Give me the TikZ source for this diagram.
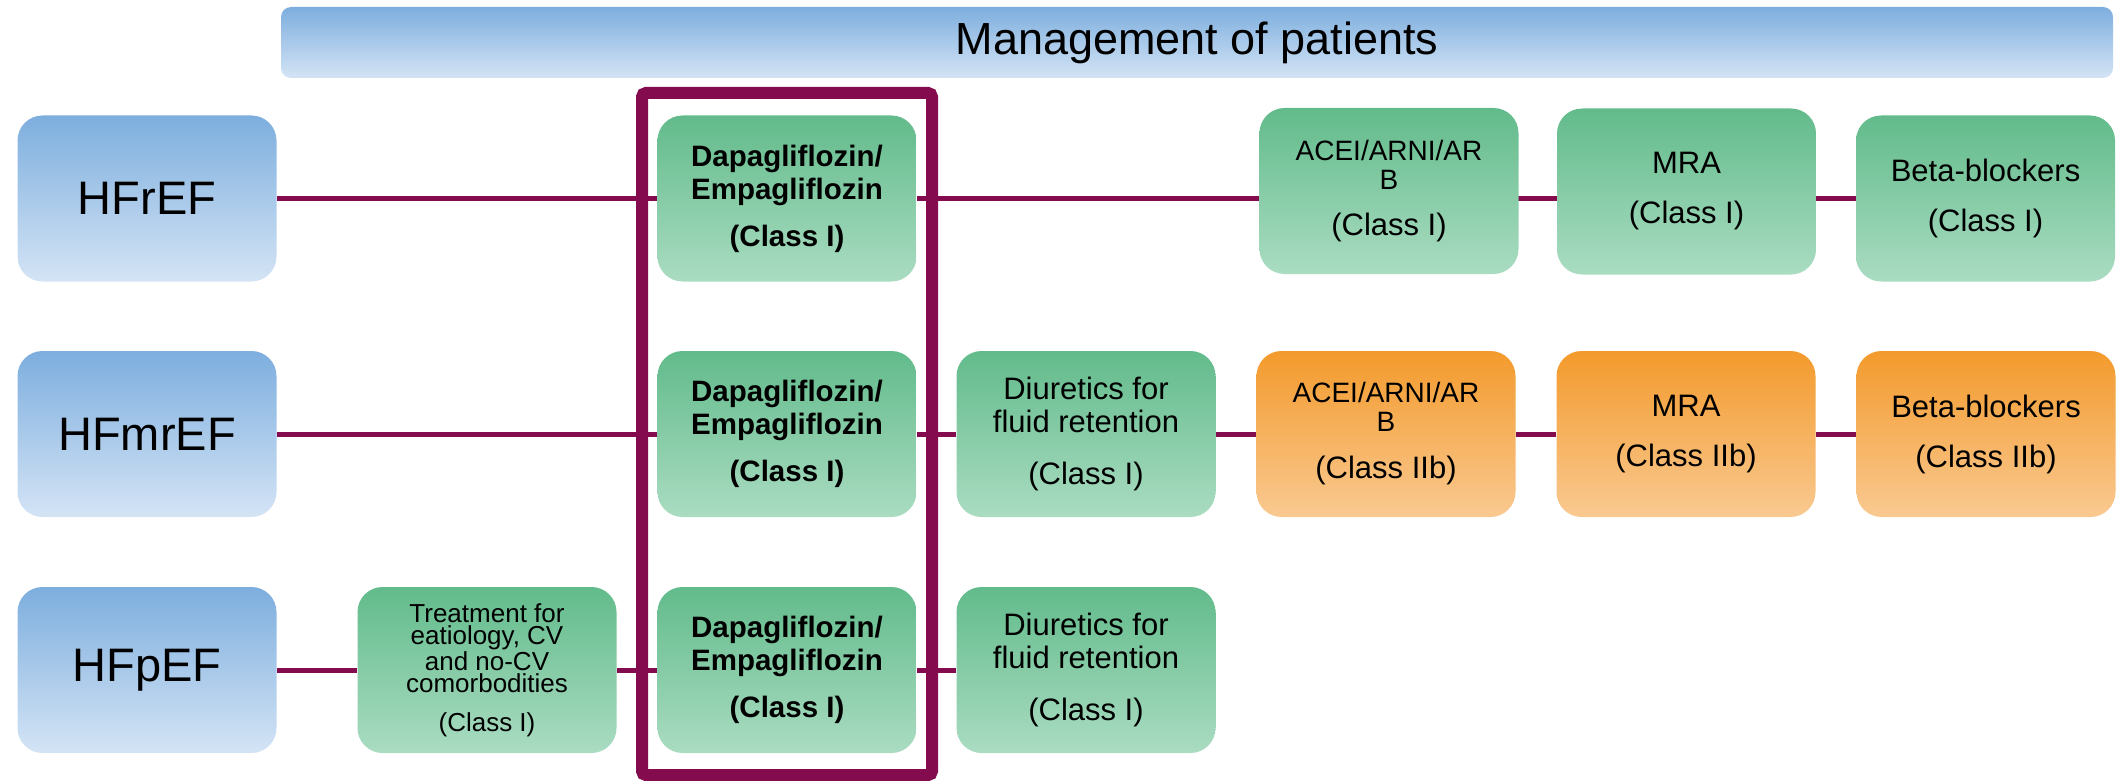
\documentclass[tikz,border=0pt]{standalone}
\usepackage{fontspec}
\setmainfont{Liberation Sans}
\usetikzlibrary{backgrounds}
\definecolor{bluetop}{HTML}{7DAEDE}
\definecolor{bluebot}{HTML}{D4E4F5}
\definecolor{greentop}{HTML}{62BB8B}
\definecolor{greenbot}{HTML}{AADCC2}
\definecolor{orangetop}{HTML}{F39A2C}
\definecolor{orangebot}{HTML}{F9C991}
\definecolor{purp}{HTML}{830B4E}
\newcommand{\classline}{\fontsize{31pt}{33pt}\selectfont}
\begin{document}
\begin{tikzpicture}[x=1pt,y=-1pt,
  box/.style={rounded corners=25pt, minimum width=259pt, minimum height=166pt, inner sep=0pt, align=center},
  bluebox/.style={box, top color=bluetop, bottom color=bluebot},
  greenbox/.style={box, top color=greentop, bottom color=greenbot},
  orangebox/.style={box, top color=orangetop, bottom color=orangebot},
  big/.style={font=\fontsize{47pt}{50pt}\selectfont},
  drug/.style={font=\bfseries\fontsize{29.5pt}{33pt}\selectfont},
  med/.style={font=\fontsize{31pt}{33pt}\selectfont},
  acei/.style={font=\fontsize{28pt}{29pt}\selectfont},
  small/.style={font=\fontsize{26pt}{22.5pt}\selectfont},
  link/.style={draw=purp, line width=5pt},
  frame/.style={draw=purp, line width=12pt, rounded corners=4pt}]
\useasboundingbox (0,0) rectangle (2121,781);

% title
\node[rounded corners=10pt, top color=bluetop, bottom color=bluebot, minimum width=1832pt, minimum height=71pt, inner sep=0pt,
  font=\fontsize{45pt}{48pt}\selectfont] (title) at (1197,42.5) {Management of patients};

% row 1
\node[bluebox, big] (hfref) at (147,198.5) {HFrEF};
\node[greenbox, drug] (dapa1) at (787,198.5) {Dapagliflozin/\\Empagliflozin\\[14pt](Class I)};
\node[greenbox, acei] (acei1) at (1389,191) {ACEI/ARNI/AR\\B\\[17pt]{\classline(Class I)}};
\node[greenbox, med] (mra1) at (1686.5,191.5) {MRA\\[17pt](Class I)};
\node[greenbox, med] (beta1) at (1985.5,198.5) {Beta-blockers\\[17pt](Class I)};

% row 2
\node[bluebox, big] (hfmref) at (147,434) {HFmrEF};
\node[greenbox, drug] (dapa2) at (787,434) {Dapagliflozin/\\Empagliflozin\\[14pt](Class I)};
\node[greenbox, med] (diur2) at (1086,434) {Diuretics for\\fluid retention\\[19pt](Class I)};
\node[orangebox, acei] (acei2) at (1386,434) {ACEI/ARNI/AR\\B\\[18pt]{\classline(Class IIb)}};
\node[orangebox, med] (mra2) at (1686,434) {MRA\\[17pt](Class IIb)};
\node[orangebox, med] (beta2) at (1986,434) {Beta-blockers\\[17pt](Class IIb)};

% row 3
\node[bluebox, big] (hfpef) at (147,670) {HFpEF};
\node[greenbox, small] (treat) at (487,670) {Treatment for\\eatiology, CV\\and no-CV\\comorbodities\\[16pt](Class I)};
\node[greenbox, drug] (dapa3) at (787,670) {Dapagliflozin/\\Empagliflozin\\[14pt](Class I)};
\node[greenbox, med] (diur3) at (1086,670) {Diuretics for\\fluid retention\\[19pt](Class I)};

% connectors
\begin{scope}[on background layer]
\draw[link] (hfref) -- (dapa1) -- (dapa1 -| acei1) -- (dapa1 -| mra1) -- (beta1);
\draw[link] (hfmref) -- (dapa2) -- (diur2) -- (acei2) -- (mra2) -- (beta2);
\draw[link] (hfpef) -- (treat) -- (dapa3) -- (diur3);
\end{scope}

% highlight frame
\draw[frame] (642,93) rectangle (932,775);
\end{tikzpicture}
\end{document}
